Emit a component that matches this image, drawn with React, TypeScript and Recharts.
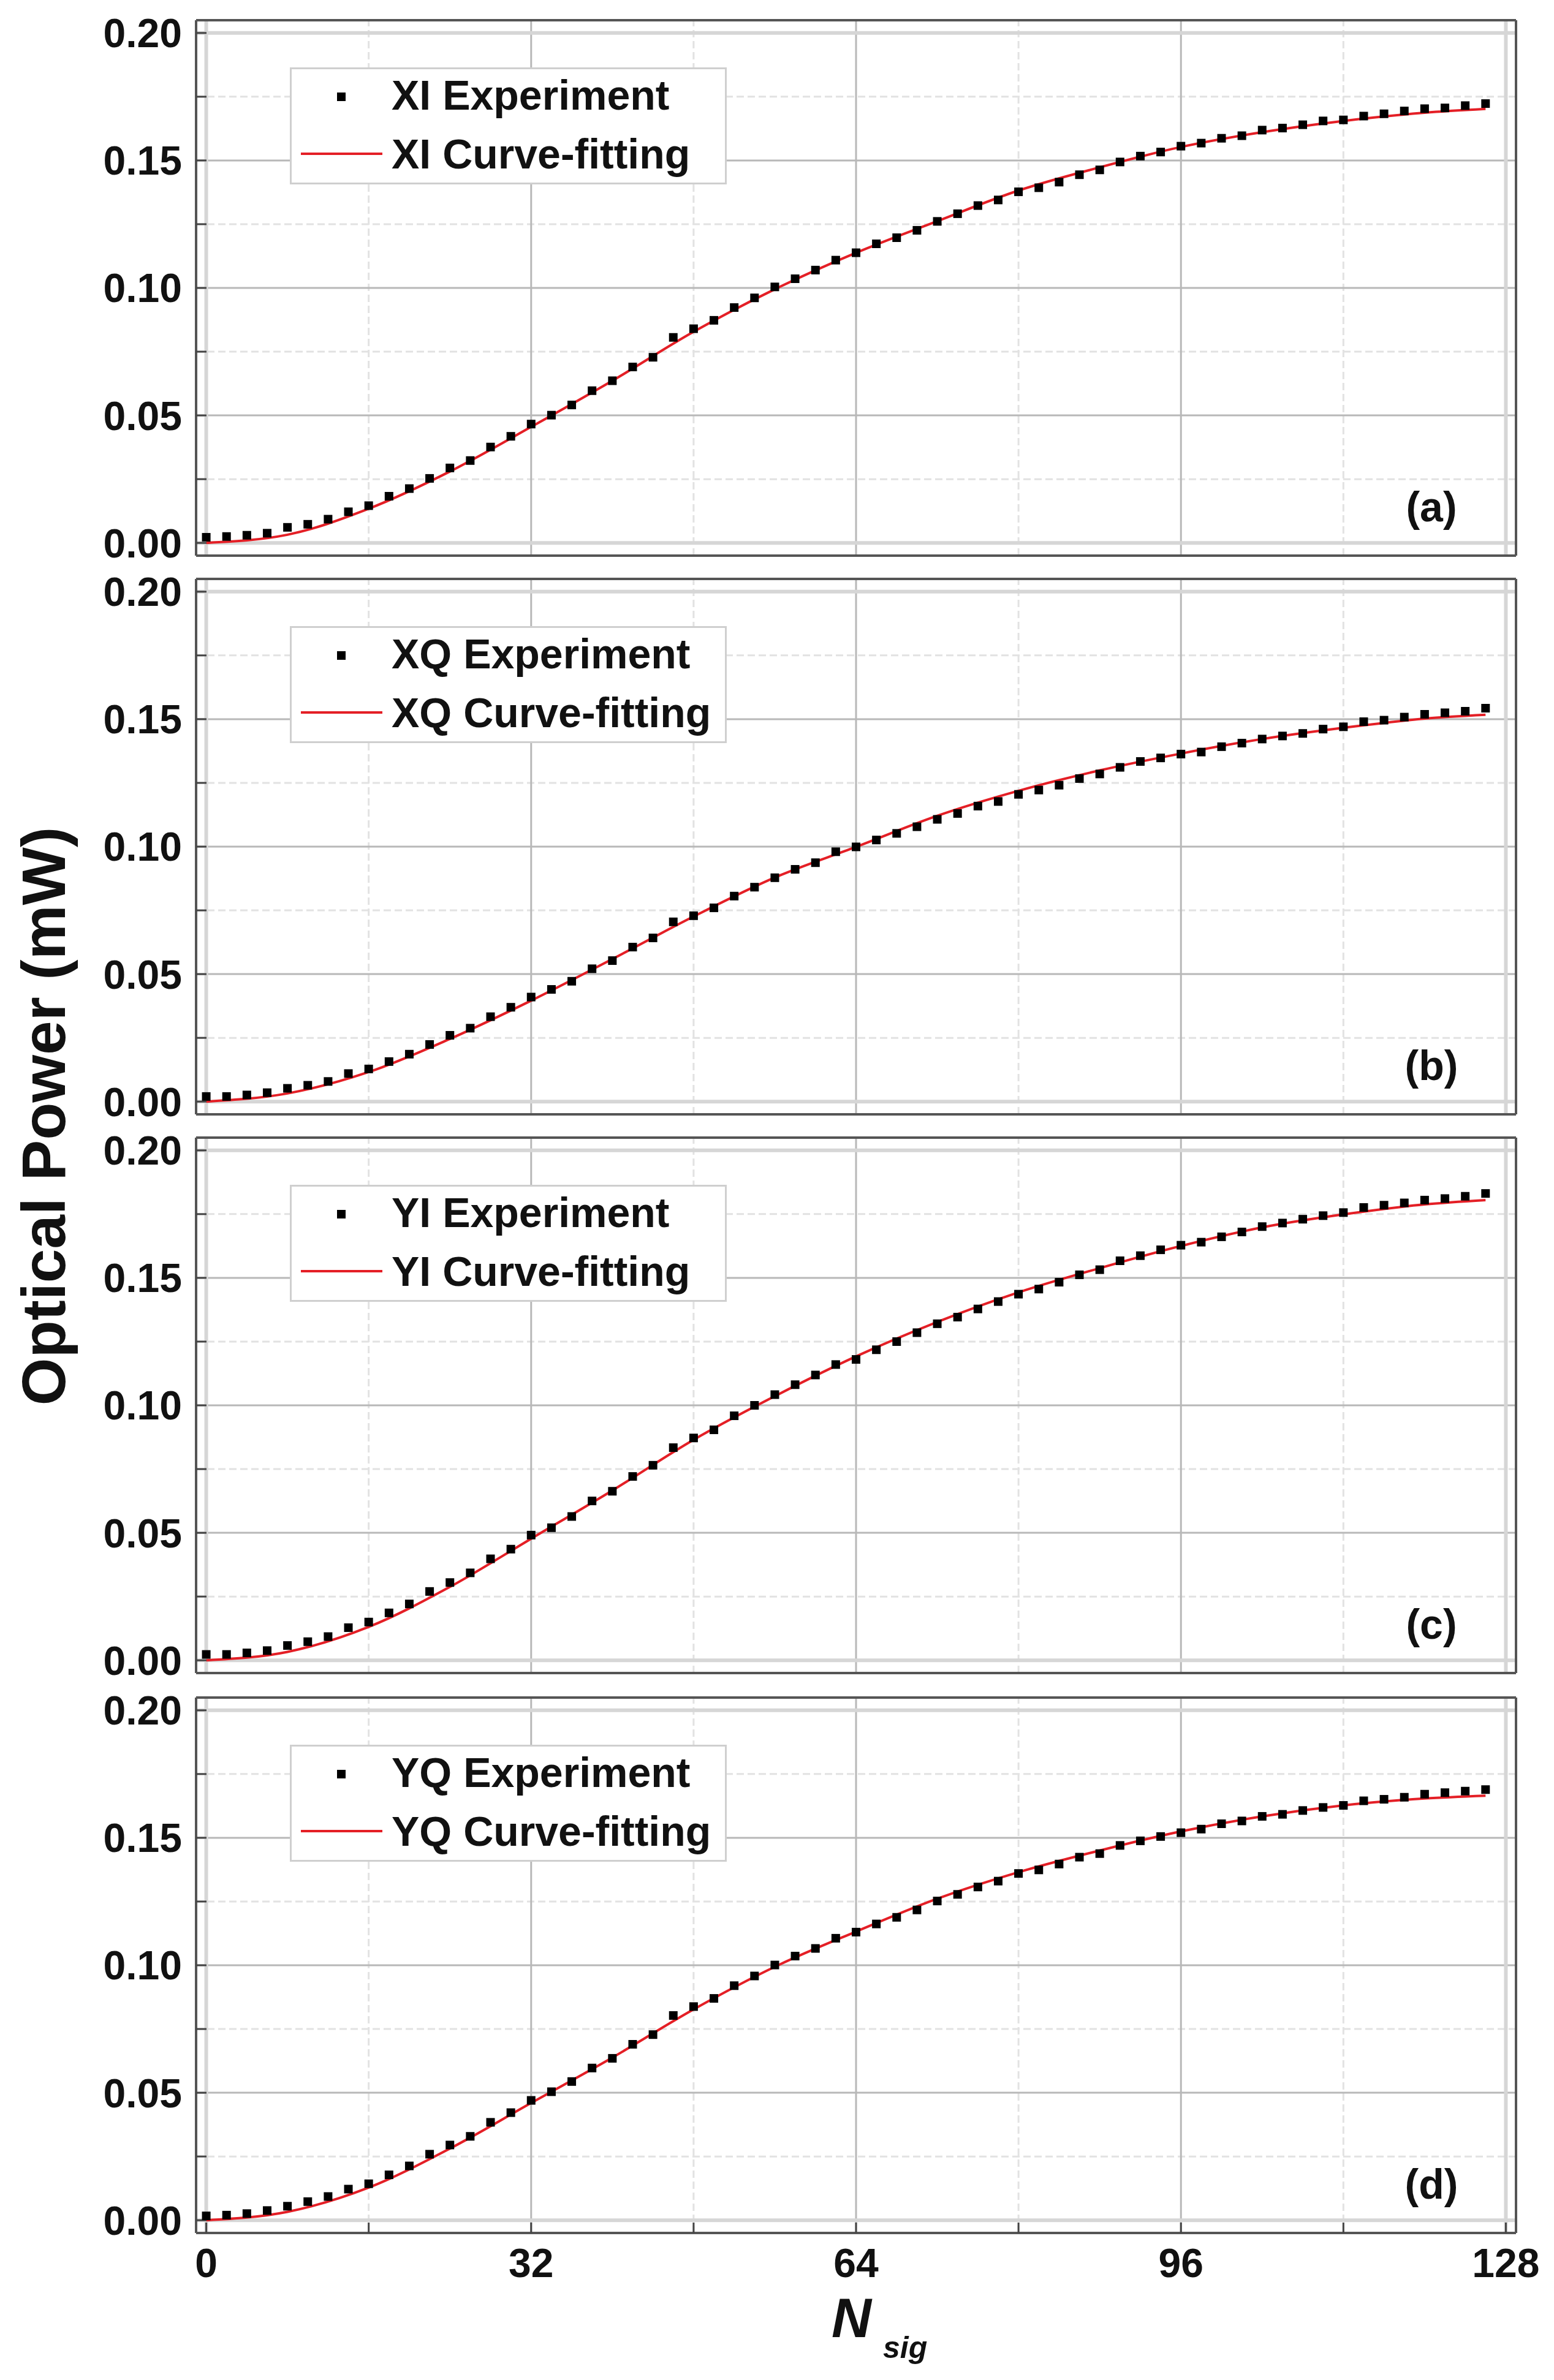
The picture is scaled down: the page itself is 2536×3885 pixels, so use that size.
import React from "react";
import {
  ComposedChart,
  Scatter,
  Line,
  XAxis,
  YAxis,
  ReferenceLine,
} from "recharts";

//========== Data ==========
const EXP_X = [
  0, 2, 4, 6, 8, 10, 12, 14, 16, 18, 20, 22, 24, 26, 28, 30, 32, 34, 36, 38,
  40, 42, 44, 46, 48, 50, 52, 54, 56, 58, 60, 62, 64, 66, 68, 70, 72, 74, 76,
  78, 80, 82, 84, 86, 88, 90, 92, 94, 96, 98, 100, 102, 104, 106, 108, 110,
  112, 114, 116, 118, 120, 122, 124, 126,
];

const XI_EXP = [
  0.0022, 0.0025, 0.003, 0.0038, 0.0061, 0.0073, 0.0093, 0.0122, 0.0146, 0.0183,
  0.0213, 0.0253, 0.0294, 0.0323, 0.0376, 0.0418, 0.0466, 0.0501, 0.0541, 0.0597,
  0.0636, 0.069, 0.0728, 0.0806, 0.084, 0.0873, 0.0923, 0.0961, 0.1004, 0.1036,
  0.107, 0.1109, 0.1138, 0.1173, 0.1197, 0.1226, 0.1261, 0.1291, 0.1323, 0.1345,
  0.1377, 0.1393, 0.1415, 0.1444, 0.1463, 0.1494, 0.1517, 0.1533, 0.1556, 0.1568,
  0.1587, 0.1597, 0.1619, 0.1627, 0.164, 0.1655, 0.1659, 0.1674, 0.1683, 0.1694,
  0.1703, 0.1706, 0.1715, 0.1723,
];

const XQ_EXP = [
  0.002, 0.002, 0.0026, 0.0035, 0.0052, 0.0064, 0.0079, 0.011, 0.0128, 0.0157,
  0.0186, 0.0224, 0.026, 0.0288, 0.0333, 0.037, 0.041, 0.044, 0.0472, 0.0521,
  0.0553, 0.0606, 0.0642, 0.0705, 0.0729, 0.076, 0.0806, 0.0841, 0.0878, 0.0911,
  0.0937, 0.098, 0.0999, 0.1026, 0.1052, 0.1078, 0.1107, 0.113, 0.1159, 0.1177,
  0.1205, 0.1222, 0.1241, 0.1267, 0.1285, 0.1311, 0.1334, 0.1348, 0.1363, 0.1371,
  0.1392, 0.1406, 0.1422, 0.1434, 0.1444, 0.1461, 0.147, 0.149, 0.1496, 0.1508,
  0.1519, 0.1525, 0.1531, 0.1543,
];

const YI_EXP = [
  0.0023, 0.0023, 0.0029, 0.0038, 0.0058, 0.0073, 0.0093, 0.0128, 0.015, 0.0186,
  0.0221, 0.027, 0.0305, 0.0343, 0.0398, 0.0436, 0.0491, 0.052, 0.0564, 0.0625,
  0.0663, 0.0721, 0.0765, 0.0834, 0.0872, 0.0904, 0.0959, 0.1, 0.1042, 0.1081,
  0.1119, 0.116, 0.118, 0.1218, 0.125, 0.1285, 0.132, 0.1346, 0.1378, 0.1407,
  0.1436, 0.1456, 0.1483, 0.1512, 0.1532, 0.1567, 0.1587, 0.161, 0.1628, 0.164,
  0.1661, 0.168, 0.1701, 0.1715, 0.173, 0.1744, 0.1756, 0.1776, 0.1785, 0.1794,
  0.1805, 0.1811, 0.182, 0.1831,
];

const YQ_EXP = [
  0.0017, 0.002, 0.0026, 0.0038, 0.0055, 0.0073, 0.0093, 0.0122, 0.0143, 0.0178,
  0.0213, 0.0259, 0.0295, 0.0329, 0.0384, 0.0422, 0.047, 0.0504, 0.0544, 0.0597,
  0.0635, 0.069, 0.0728, 0.0803, 0.0838, 0.087, 0.092, 0.0958, 0.1001, 0.1036,
  0.1066, 0.1106, 0.113, 0.1162, 0.1188, 0.1217, 0.1252, 0.1278, 0.1307, 0.133,
  0.136, 0.1374, 0.1397, 0.1424, 0.1438, 0.147, 0.1488, 0.1505, 0.152, 0.1534,
  0.1555, 0.1566, 0.1584, 0.1592, 0.1607, 0.1619, 0.1627, 0.1645, 0.1651, 0.1659,
  0.1671, 0.1677, 0.1683, 0.1689,
];

const FIT_X = [0, 8, 16, 24, 32, 40, 48, 56, 64, 72, 80, 88, 96, 104, 112, 120, 126];

const XI_FIT = [0, 0.0032, 0.0134, 0.028, 0.0455, 0.0636, 0.0828, 0.0995, 0.1138, 0.1262, 0.1382, 0.1473, 0.1553, 0.1611, 0.1655, 0.1687, 0.1702];
const XQ_FIT = [0, 0.0032, 0.0116, 0.0246, 0.0396, 0.0559, 0.0726, 0.0879, 0.0999, 0.1121, 0.1219, 0.1299, 0.1365, 0.1422, 0.1466, 0.1502, 0.1517];
const YI_FIT = [0, 0.0033, 0.0131, 0.0288, 0.0477, 0.0666, 0.0865, 0.1036, 0.1192, 0.1327, 0.1443, 0.1538, 0.1625, 0.1698, 0.1749, 0.1788, 0.1805];
const YQ_FIT = [0, 0.0033, 0.0128, 0.0281, 0.046, 0.0638, 0.0827, 0.0994, 0.1132, 0.1261, 0.1365, 0.145, 0.1525, 0.1584, 0.1627, 0.1654, 0.1665];

const CHANNELS = ["XI", "XQ", "YI", "YQ"];
const PANEL_TAGS = ["(a)", "(b)", "(c)", "(d)"];
const EXP_SERIES = [XI_EXP, XQ_EXP, YI_EXP, YQ_EXP];
const FIT_SERIES = [XI_FIT, XQ_FIT, YI_FIT, YQ_FIT];

//========== Axis Ticks & Grid ==========
const X_TICKS = [0, 16, 32, 48, 64, 80, 96, 112, 128];
const Y_TICKS = [0, 0.025, 0.05, 0.075, 0.1, 0.125, 0.15, 0.175, 0.2];
const X_MAJOR = [32, 64, 96];
const X_MINOR = [16, 48, 80, 112];
const X_EDGE = [0, 128];
const Y_MAJOR = [0.05, 0.1, 0.15];
const Y_MINOR = [0.025, 0.075, 0.125, 0.175];
const Y_EDGE = [0, 0.2];

//========== Layout ==========
const FONT = '"Liberation Sans", Arial, Helvetica, sans-serif';
const PAGE_W = 2536;
const PAGE_H = 3885;
const PLOT_LEFT = 320;
const PLOT_W = 2154;
const PLOT_H = 874;
const PAD = 30;
const PANEL_TOPS = [33, 945, 1857, 2771];
const RED = "#e41f26";
const FRAME = "#555555";

const Panel: React.FC<{ idx: number }> = ({ idx }) => {
  const last = idx === 3;
  const bottomH = last ? 240 : PAD;
  const h = PAD + PLOT_H + bottomH;
  const exp = EXP_X.map((x, i) => ({ x, y: EXP_SERIES[idx][i] }));
  const fit = FIT_X.map((x, i) => ({ x, y: FIT_SERIES[idx][i] }));
  const name = CHANNELS[idx];

  const tickStyle = { fill: "#111", fontSize: 66, fontWeight: 700, fontFamily: FONT };
  const axisLine = { stroke: FRAME, strokeWidth: 4 };
  const tickLine = { stroke: "#444", strokeWidth: 3 };

  return (
    <div style={{ position: "absolute", left: 0, top: PANEL_TOPS[idx] - PAD, width: PAGE_W, height: h }}>
      <ComposedChart width={PAGE_W} height={h} margin={{ top: 0, right: 0, bottom: 0, left: 0 }}>
        <XAxis
          xAxisId="b"
          dataKey="x"
          type="number"
          domain={[-1, 129]}
          allowDataOverflow
          ticks={X_TICKS}
          interval={0}
          orientation="bottom"
          height={bottomH}
          axisLine={axisLine}
          tickLine={tickLine}
          tickSize={-17}
          tickMargin={42}
          tick={last ? tickStyle : false}
          tickFormatter={(v: number) => (v % 32 === 0 ? String(v) : "")}
          label={
            last
              ? (p: any) => {
                  const vb = p.viewBox;
                  const cx = vb.x + vb.width / 2;
                  return (
                    <g fontFamily={FONT} fontWeight={700} fontStyle="italic" fill="#111">
                      <text x={cx - 40} y={vb.y + 170} fontSize={90}>N</text>
                      <text x={cx + 44} y={vb.y + 204} fontSize={50}>sig</text>
                    </g>
                  );
                }
              : undefined
          }
        />
        <XAxis
          xAxisId="t"
          type="number"
          domain={[-1, 129]}
          allowDataOverflow
          ticks={X_TICKS}
          interval={0}
          orientation="top"
          height={PAD}
          axisLine={axisLine}
          tickLine={tickLine}
          tickSize={-17}
          tick={false}
        />
        <YAxis
          yAxisId="l"
          type="number"
          domain={[-0.005, 0.205]}
          allowDataOverflow
          ticks={Y_TICKS}
          interval={0}
          width={PLOT_LEFT}
          axisLine={axisLine}
          tickLine={tickLine}
          tickSize={-17}
          tickMargin={40}
          tick={tickStyle}
          tickFormatter={(v: number) =>
            Math.abs(v * 20 - Math.round(v * 20)) < 1e-6 ? v.toFixed(2) : ""
          }
        />
        <YAxis
          yAxisId="r"
          type="number"
          orientation="right"
          domain={[-0.005, 0.205]}
          allowDataOverflow
          ticks={Y_TICKS}
          interval={0}
          width={PAGE_W - PLOT_LEFT - PLOT_W}
          axisLine={axisLine}
          tickLine={tickLine}
          tickSize={-17}
          tick={false}
        />

        {/*========== Grid ==========*/}
        {X_MINOR.map((v) => (
          <ReferenceLine key={`xm${v}`} x={v} xAxisId="b" yAxisId="l" stroke="#e2e2e2" strokeWidth={3} strokeDasharray="12 6" />
        ))}
        {Y_MINOR.map((v) => (
          <ReferenceLine key={`ym${v}`} y={v} xAxisId="b" yAxisId="l" stroke="#e2e2e2" strokeWidth={3} strokeDasharray="12 6" />
        ))}
        {X_MAJOR.map((v) => (
          <ReferenceLine key={`xM${v}`} x={v} xAxisId="b" yAxisId="l" stroke="#b8b8b8" strokeWidth={3} />
        ))}
        {Y_MAJOR.map((v) => (
          <ReferenceLine key={`yM${v}`} y={v} xAxisId="b" yAxisId="l" stroke="#b8b8b8" strokeWidth={3} />
        ))}
        {X_EDGE.map((v) => (
          <ReferenceLine key={`xe${v}`} x={v} xAxisId="b" yAxisId="l" stroke="#d6d6d6" strokeWidth={6} />
        ))}
        {Y_EDGE.map((v) => (
          <ReferenceLine key={`ye${v}`} y={v} xAxisId="b" yAxisId="l" stroke="#d6d6d6" strokeWidth={6} />
        ))}

        {/*========== Series ==========*/}
        <Line
          data={fit}
          dataKey="y"
          xAxisId="b"
          yAxisId="l"
          type="monotone"
          stroke={RED}
          strokeWidth={4}
          dot={false}
          isAnimationActive={false}
        />
        <Scatter
          data={exp}
          dataKey="y"
          xAxisId="b"
          yAxisId="l"
          fill="#000"
          isAnimationActive={false}
          shape={(p: any) => <rect x={p.cx - 7} y={p.cy - 7} width={14} height={14} fill="#000" />}
        />
      </ComposedChart>

      {/*========== Legend ==========*/}
      <div
        style={{
          position: "absolute",
          left: 473,
          top: PAD + 77,
          width: 713,
          height: 191,
          boxSizing: "border-box",
          border: "3px solid #cfcfcf",
          background: "#fff",
          fontFamily: FONT,
          fontWeight: 700,
          fontSize: 68,
          lineHeight: 1,
          color: "#111",
        }}
      >
        <div style={{ position: "absolute", left: 74, top: 38, width: 14, height: 14, background: "#000" }} />
        <div style={{ position: "absolute", left: 15, top: 136, width: 133, height: 4, background: RED }} />
        <div style={{ position: "absolute", left: 163, top: 41 - 33, whiteSpace: "nowrap" }}>
          {name} Experiment
        </div>
        <div style={{ position: "absolute", left: 163, top: 137 - 33, whiteSpace: "nowrap" }}>
          {name} Curve-fitting
        </div>
      </div>

      {/*========== Panel Tag ==========*/}
      <div
        style={{
          position: "absolute",
          left: 2336,
          top: PAD + 794,
          transform: "translate(-50%, -50%)",
          fontFamily: FONT,
          fontWeight: 700,
          fontSize: 68,
          lineHeight: 1,
          color: "#111",
        }}
      >
        {PANEL_TAGS[idx]}
      </div>
    </div>
  );
};

//========== Figure ==========
const App: React.FC = () => {
  return (
    <div
      style={{
        position: "absolute",
        left: 0,
        top: 0,
        width: PAGE_W,
        height: PAGE_H,
        background: "#fff",
        overflow: "hidden",
      }}
    >
      {CHANNELS.map((c, i) => (
        <Panel key={c} idx={i} />
      ))}

      {/*========== Y Title ==========*/}
      <div
        style={{
          position: "absolute",
          left: 71,
          top: 1822,
          transform: "translate(-50%, -50%) rotate(-90deg)",
          fontFamily: FONT,
          fontWeight: 700,
          fontSize: 100,
          lineHeight: 1,
          color: "#111",
          whiteSpace: "nowrap",
        }}
      >
        Optical Power (mW)
      </div>
    </div>
  );
};

export default App;
